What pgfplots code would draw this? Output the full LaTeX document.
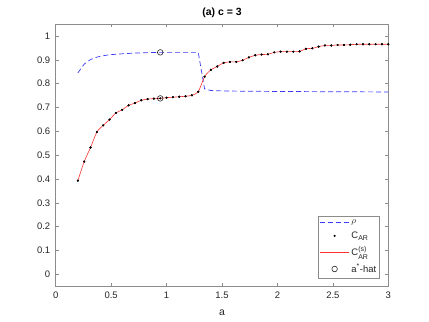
\documentclass[border=0pt]{standalone}
\usepackage{pgfplots}
\pgfplotsset{compat=1.18}
\usepackage{pgfplotstable}
\usepackage{fontspec}
\setmainfont{Liberation Sans}
\definecolor{axgray}{HTML}{262626}
\definecolor{framegray}{HTML}{8C8C8C}
\definecolor{rhoblue}{HTML}{3A3AFF}
\definecolor{fitred}{HTML}{FF3030}

\pgfplotsset{
  legend image code/.code={\draw[mark repeat=2, mark phase=2, #1] plot coordinates {(0bp,0bp) (14.5bp,0bp) (29bp,0bp)};},
}

\pgfplotstableread{
a c
0.2000 0.393
0.2571 0.473
0.3143 0.532
0.3714 0.597
0.4286 0.625
0.4857 0.649
0.5429 0.677
0.6000 0.690
0.6571 0.709
0.7143 0.718
0.7714 0.730
0.8286 0.735
0.8857 0.737
0.9429 0.738
1.0000 0.741
1.0571 0.743
1.1143 0.745
1.1714 0.747
1.2286 0.751
1.2857 0.766
1.3429 0.829
1.4000 0.858
1.4571 0.872
1.5143 0.887
1.5714 0.891
1.6286 0.891
1.6857 0.898
1.7429 0.910
1.8000 0.919
1.8571 0.922
1.9143 0.923
1.9714 0.931
2.0286 0.934
2.0857 0.934
2.1429 0.934
2.2000 0.935
2.2571 0.946
2.3143 0.948
2.3714 0.955
2.4286 0.960
2.4857 0.960
2.5429 0.962
2.6000 0.962
2.6571 0.963
2.7143 0.965
2.7714 0.965
2.8286 0.965
2.8857 0.965
2.9429 0.965
3.0000 0.965
}\cartab

\pgfplotstableread{
a r
0.2000 0.845
0.2571 0.882
0.3143 0.901
0.3714 0.911
0.4286 0.917
0.4857 0.921
0.6000 0.925
0.7143 0.928
0.8286 0.930
0.9429 0.931
1.2857 0.931
1.3429 0.778
1.4000 0.771
1.5143 0.769
2.0000 0.767
3.0000 0.765
}\rhotab

\begin{document}
\begin{tikzpicture}
\begin{axis}[
  at={(55.7bp,35.7bp)}, anchor=south west,
  scale only axis, width=332.6bp, height=262.3bp,
  xmin=0, xmax=3, ymin=-0.05, ymax=1.05,
  xtick={0,0.5,...,3}, ytick={0,0.1,...,1},
  tick align=inside,
  major tick length=3.3bp,
  axis line style={framegray, line width=0.5bp},
  every tick/.style={framegray, line width=0.5bp},
  tick label style={font=\fontsize{9.5}{11}\selectfont, text=axgray},
  /pgf/number format/assume math mode=true,
  /pgf/number format/fixed,
  xticklabel style={yshift=-2.5bp},
  yticklabel style={xshift=-2bp},
  title={\textbf{(a) c = 3}},
  title style={font=\fontsize{10.5}{12}\selectfont, yshift=-3bp},
  xlabel={a},
  xlabel style={font=\fontsize{10.5}{12}\selectfont, text=axgray, yshift=-4bp},
  legend cell align=left,
  legend style={at={(0.975,0.0305)}, anchor=south east,
    draw=framegray, line width=0.5bp, fill=white,
    font=\fontsize{9.5}{11}\selectfont, text=axgray,
    row sep=2.5bp, inner sep=1.5bp, inner ysep=2bp},
]
\addplot[rhoblue, line width=0.7bp, dash pattern=on 5bp off 3bp] table[x=a,y=r] {\rhotab};
\addlegendentry{$\rho$}
\addplot[only marks, mark=*, mark size=0.8bp, black] table[x=a,y=c] {\cartab};
\addlegendentry{C$_{\mbox{\scriptsize AR}}$}
\addplot[fitred, line width=0.6bp, smooth, tension=0.4] table[x=a,y=c] {\cartab};
\addlegendentry{C$^{\mbox{\scriptsize (s)}}_{\mbox{\scriptsize AR}}$}
\addplot[only marks, mark=o, mark size=2.8bp, black, line width=0.5bp] coordinates {(0.9429,0.931) (0.9429,0.738)};
\addlegendentry{a$^{\mbox{\scriptsize *}}$-hat}
\addplot[only marks, mark=*, mark size=0.8bp, black, forget plot] table[x=a,y=c] {\cartab};
\end{axis}
\pgfresetboundingbox
\useasboundingbox (0,0) rectangle (429bp,322bp);
\end{tikzpicture}
\end{document}
